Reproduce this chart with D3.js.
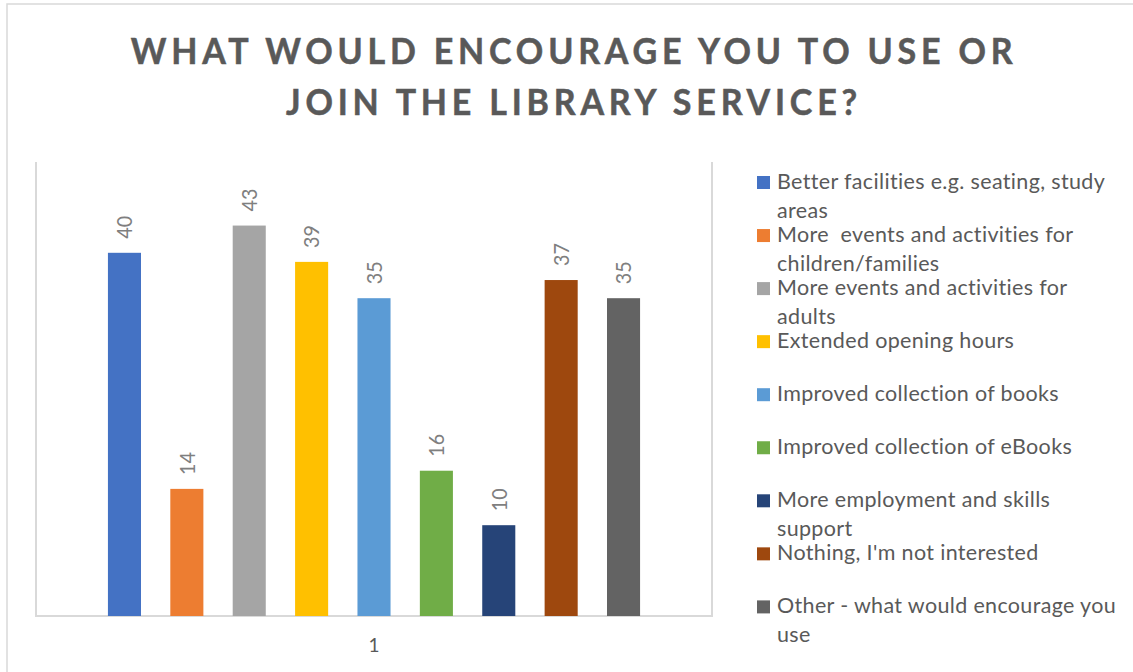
<!DOCTYPE html>
<html>
<head>
<meta charset="utf-8">
<script src="https://cdn.jsdelivr.net/npm/d3@7"></script>
<style>
  html, body { margin: 0; padding: 0; background: #ffffff; }
  svg { display: block; }
  text { font-family: Lato, "Open Sans", sans-serif; }
</style>
</head>
<body>
<svg id="chart" width="1133" height="672"></svg>
<script>
// Survey responses: what would encourage people to use or join the library service
const categories = ["1"];
const seriesNames = [
  "Better facilities e.g. seating, study areas",
  "More  events and activities for children/families",
  "More events and activities for adults",
  "Extended opening hours",
  "Improved collection of books",
  "Improved collection of eBooks",
  "More employment and skills support",
  "Nothing, I'm not interested",
  "Other - what would encourage you use"
];
const seriesValues = [40, 14, 43, 39, 35, 16, 10, 37, 35];
const seriesColors = ["#4472C4", "#ED7D31", "#A5A5A5", "#FFC000", "#5B9BD5",
                      "#70AD47", "#264478", "#9E480E", "#636363"];
const titleLines = ["WHAT WOULD ENCOURAGE YOU TO USE OR", "JOIN THE LIBRARY SERVICE?"];
const yDomain = [0, 50];

const svg = d3.select("#chart");
const W = 1133, H = 672;
const plot = { left: 36, right: 712, top: 162, bottom: 616 };

// chart frame
svg.append("rect")
  .attr("x", 7).attr("y", 4).attr("width", W + 20).attr("height", H + 20)
  .attr("fill", "#ffffff").attr("stroke", "#d9d9d9").attr("stroke-width", 1.5);

// title
const title = svg.append("g");
titleLines.forEach((line, i) => {
  title.append("text")
    .attr("transform", `translate(574,${64 + i * 51}) scale(1,1.05)`)
    .attr("text-anchor", "middle")
    .attr("fill", "#595959")
    .attr("stroke", "#595959")
    .attr("stroke-width", 0.5)
    .attr("font-size", 34)
    .attr("font-weight", 700)
    .attr("letter-spacing", 4.8)
    .text(line);
});

// scales
const x0 = d3.scaleBand().domain(categories).range([plot.left, plot.right])
  .paddingInner(0).paddingOuter(0.102);
const x1 = d3.scaleBand().domain(d3.range(seriesValues.length))
  .range([0, x0.bandwidth()]).paddingInner(0.47).paddingOuter(0.235);
const y = d3.scaleLinear().domain(yDomain).range([plot.bottom, plot.top]);

// plot area border (left, right, bottom)
svg.append("path")
  .attr("d", `M${plot.left},${plot.top}V${plot.bottom}H${plot.right}V${plot.top}`)
  .attr("fill", "none").attr("stroke", "#d9d9d9").attr("stroke-width", 2);

// bars
const group = svg.append("g").selectAll("g").data(categories).join("g")
  .attr("transform", d => `translate(${x0(d)},0)`);

group.selectAll("rect")
  .data(() => seriesValues.map((v, i) => ({ v, i })))
  .join("rect")
  .attr("x", d => x1(d.i))
  .attr("width", x1.bandwidth())
  .attr("y", d => y(d.v))
  .attr("height", d => y(0) - y(d.v))
  .attr("fill", d => seriesColors[d.i]);

// rotated value labels
group.selectAll("text.val")
  .data(() => seriesValues.map((v, i) => ({ v, i })))
  .join("text")
  .attr("class", "val")
  .attr("transform", d => `translate(${x1(d.i) + x1.bandwidth() / 2},${y(d.v) - 14}) rotate(-90) scale(0.92,1)`)
  .attr("dy", "0.36em")
  .attr("text-anchor", "start")
  .attr("fill", "#7f7f7f")
  .attr("font-size", 21.5)
  .text(d => d.v);

// category axis
const xAxis = svg.append("g")
  .attr("transform", `translate(0,${plot.bottom})`)
  .call(d3.axisBottom(x0).tickSize(0).tickPadding(0));
xAxis.select(".domain").remove();
xAxis.selectAll("text")
  .attr("fill", "#595959")
  .attr("font-size", 19)
  .attr("font-family", "Lato, sans-serif")
  .attr("dy", 0)
  .attr("y", 36);

// legend
const legend = svg.append("g");
const legendFont = 21.5;
const legendSpacing = 0.35;
const legendMaxWidth = 342;
seriesNames.forEach((name, i) => {
  const baseY = 189 + i * 53.05;
  const g = legend.append("g");
  g.append("rect")
    .attr("x", 757).attr("y", baseY - 13)
    .attr("width", 13).attr("height", 13)
    .attr("fill", seriesColors[i]);
  // wrap the label into lines no wider than the legend column
  const words = name.split(" ");
  const lines = [];
  let current = "";
  const probe = g.append("text").attr("font-size", legendFont)
    .attr("letter-spacing", legendSpacing).style("white-space", "pre");
  words.forEach(w => {
    const trial = current === "" ? w : current + " " + w;
    probe.text(trial);
    if (probe.node().getComputedTextLength() > legendMaxWidth && current !== "") {
      lines.push(current);
      current = w;
    } else {
      current = trial;
    }
  });
  lines.push(current);
  probe.remove();
  lines.forEach((line, j) => {
    g.append("text")
      .attr("transform", `translate(777,${baseY + j * 29}) scale(1,0.95)`)
      .attr("fill", "#595959")
      .attr("font-size", legendFont)
      .attr("letter-spacing", legendSpacing)
      .style("white-space", "pre")
      .text(line);
  });
});
</script>
</body>
</html>
